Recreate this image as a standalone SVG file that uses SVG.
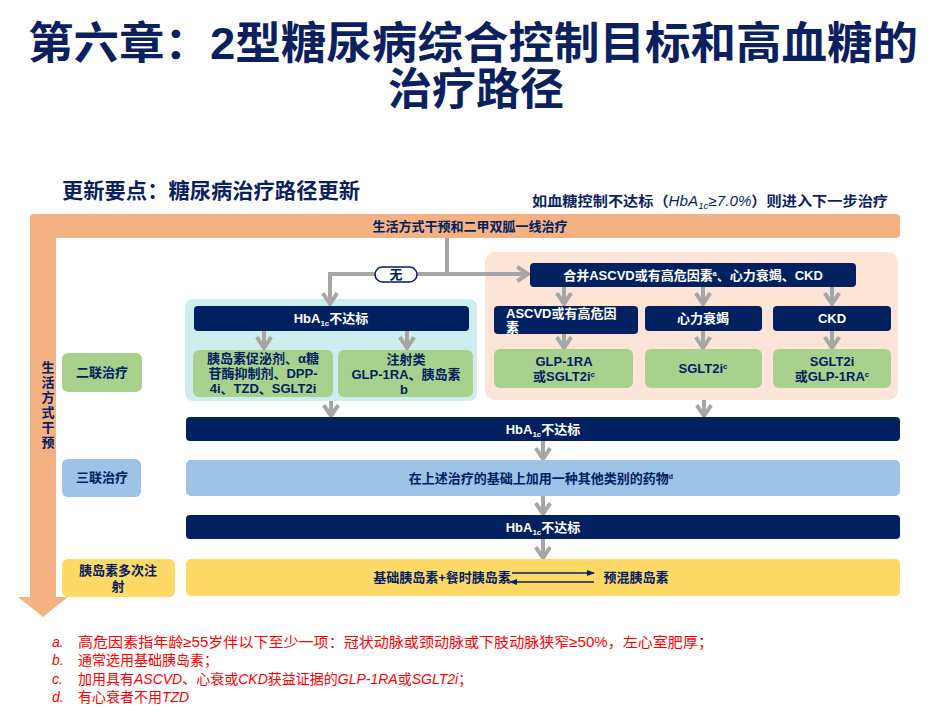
<svg xmlns="http://www.w3.org/2000/svg" width="948" height="710" viewBox="0 0 948 710">
<defs>
<style>
text{font-family:"Liberation Sans","Noto Sans CJK SC",sans-serif;}
.t{fill:#0c1f5f;font-weight:bold;}
.nv{fill:#002060;}
.w{fill:#ffffff;font-weight:bold;font-size:13px;text-anchor:middle;}
.d{fill:#002060;font-weight:bold;font-size:13px;text-anchor:middle;}
.c{stroke:#a6a6a6;stroke-width:4;fill:none;}
.fn{fill:#ff0000;font-size:14px;}
.fl{fill:#ff0000;font-size:14px;font-style:italic;}
</style>
<marker id="ch" viewBox="0 0 10 10" refX="7.5" refY="5" markerWidth="18" markerHeight="18" markerUnits="userSpaceOnUse" orient="auto">
<path d="M1.5,1 L7.5,5 L1.5,9" fill="none" stroke="#a6a6a6" stroke-width="2.2"/>
</marker>
<marker id="tri" viewBox="0 0 10 10" refX="9" refY="5" markerWidth="8" markerHeight="8" markerUnits="userSpaceOnUse" orient="auto">
<path d="M0,1 L10,5 L0,9 Z" fill="#002060"/>
</marker>
</defs>
<rect width="948" height="710" fill="#ffffff"/>

<g id="title">
<text class="t" x="473" y="59" font-size="44" text-anchor="middle" textLength="890" lengthAdjust="spacingAndGlyphs">第六章：2型糖尿病综合控制目标和高血糖的</text>
<text class="t" x="476" y="105" font-size="44" text-anchor="middle">治疗路径</text>
</g>

<g id="subtitle">
<text class="t" x="62" y="198" font-size="21" textLength="298" lengthAdjust="spacingAndGlyphs">更新要点：糖尿病治疗路径更新</text>
<text x="532" y="206" font-size="14" fill="#0c1f5f" font-weight="bold" textLength="356" lengthAdjust="spacingAndGlyphs">如血糖控制不达标（<tspan font-style="italic" font-weight="normal">HbA</tspan><tspan font-style="italic" font-weight="normal" font-size="9" dy="3">1c</tspan><tspan font-style="italic" font-weight="normal" dy="-3">≥7.0%</tspan>）则进入下一步治疗</text>
</g>

<g id="lifestyle">
<path d="M34,214 H896 Q900,214 900,218 V234 Q900,238 896,238 H56 V597 H68 L43,617 L18,597 H30 V218 Q30,214 34,214 Z" fill="#f4b183"/>
<text class="d" x="470" y="231">生活方式干预和二甲双胍一线治疗</text>
<text class="d" font-size="15" x="48" y="372"><tspan x="48">生</tspan><tspan x="48" dy="15">活</tspan><tspan x="48" dy="15">方</tspan><tspan x="48" dy="15">式</tspan><tspan x="48" dy="15">干</tspan><tspan x="48" dy="15">预</tspan></text>
</g>

<g id="region-teal"><rect x="185" y="299" width="292" height="102" rx="8" fill="#cdeeee"/></g>
<g id="region-peach"><rect x="485" y="252" width="413" height="148" rx="10" fill="#fce4d6"/></g>

<g id="connectors">
<path class="c" d="M447,238 V274 H330 V304" marker-end="url(#ch)"/>
<path class="c" d="M447,274 H528" marker-end="url(#ch)"/>
<path class="c" d="M264,331 V348" marker-end="url(#ch)"/>
<path class="c" d="M407,331 V348" marker-end="url(#ch)"/>
<path class="c" d="M564,287 V304" marker-end="url(#ch)"/>
<path class="c" d="M703,287 V304" marker-end="url(#ch)"/>
<path class="c" d="M832,287 V304" marker-end="url(#ch)"/>
<path class="c" d="M564,334 V348" marker-end="url(#ch)"/>
<path class="c" d="M703,331 V348" marker-end="url(#ch)"/>
<path class="c" d="M832,331 V348" marker-end="url(#ch)"/>
<path class="c" d="M331,401 V416" marker-end="url(#ch)"/>
<path class="c" d="M704,400 V416" marker-end="url(#ch)"/>
<path class="c" d="M543,441 V459" marker-end="url(#ch)"/>
<path class="c" d="M543,496 V514" marker-end="url(#ch)"/>
<path class="c" d="M543,539 V558" marker-end="url(#ch)"/>
</g>

<g id="none-label">
<rect x="375" y="267" width="42" height="15" rx="7.5" fill="#ffffff" stroke="#002060" stroke-width="1.5"/>
<text class="d" font-size="11" x="396" y="279">无</text>
</g>

<g id="hba1c-teal">
<rect x="194" y="306" width="275" height="25" rx="4" class="nv"/>
<text class="w" x="331" y="323">HbA<tspan font-size="8" dy="3">1c</tspan><tspan dy="-3">不达标</tspan></text>
</g>
<g id="oral">
<rect x="193" y="350" width="140" height="47" rx="6" fill="#a9d18e"/>
<text class="d" font-size="12.5" x="263" y="363">胰岛素促泌剂、α糖</text>
<text class="d" font-size="12.5" x="263" y="378">苷酶抑制剂、DPP-</text>
<text class="d" font-size="12.5" x="263" y="393">4i、TZD、SGLT2i</text>
</g>
<g id="injection">
<rect x="338" y="350" width="135" height="47" rx="6" fill="#a9d18e"/>
<text class="d" x="406" y="364">注射类</text>
<text class="d" x="406" y="379">GLP-1RA、胰岛素</text>
<text class="d" font-size="7" x="404" y="394">b</text>
</g>

<g id="comorbid">
<rect x="530" y="263" width="326" height="24" rx="4" class="nv"/>
<text class="w" x="693" y="280">合并ASCVD或有高危因素<tspan font-size="7" dy="-4">a</tspan><tspan dy="4">、心力衰竭、CKD</tspan></text>
</g>
<g id="ascvd">
<rect x="494" y="306" width="144" height="28" rx="4" class="nv"/>
<text x="506" y="318" fill="#fff" font-weight="bold" font-size="13">ASCVD或有高危因</text>
<text x="506" y="332" fill="#fff" font-weight="bold" font-size="13">素</text>
</g>
<g id="hf">
<rect x="645" y="306" width="117" height="25" rx="4" class="nv"/>
<text class="w" x="703" y="323">心力衰竭</text>
</g>
<g id="ckd">
<rect x="773" y="306" width="118" height="25" rx="4" class="nv"/>
<text class="w" x="832" y="323">CKD</text>
</g>
<g id="ascvd-drug">
<rect x="494" y="349" width="139" height="39" rx="6" fill="#a9d18e"/>
<text class="d" x="564" y="366">GLP-1RA</text>
<text class="d" x="564" y="381">或SGLT2i<tspan font-size="8" dy="-4">c</tspan></text>
</g>
<g id="hf-drug">
<rect x="645" y="349" width="117" height="39" rx="6" fill="#a9d18e"/>
<text class="d" x="703" y="373">SGLT2i<tspan font-size="8" dy="-4">c</tspan></text>
</g>
<g id="ckd-drug">
<rect x="773" y="349" width="118" height="39" rx="6" fill="#a9d18e"/>
<text class="d" x="832" y="366">SGLT2i</text>
<text class="d" x="832" y="381">或GLP-1RA<tspan font-size="8" dy="-4">c</tspan></text>
</g>

<g id="dual-label">
<rect x="62" y="353" width="80" height="39" rx="6" fill="#a9d18e"/>
<text class="d" x="102" y="377">二联治疗</text>
</g>
<g id="hba1c-1">
<rect x="186" y="417" width="714" height="24" rx="4" class="nv"/>
<text class="w" x="543" y="434">HbA<tspan font-size="8" dy="3">1c</tspan><tspan dy="-3">不达标</tspan></text>
</g>
<g id="triple-label">
<rect x="62" y="459" width="79" height="38" rx="6" fill="#9dc3e6"/>
<text class="d" x="102" y="482">三联治疗</text>
</g>
<g id="triple">
<rect x="186" y="460" width="714" height="36" rx="5" fill="#9dc3e6"/>
<text class="d" x="541" y="483">在上述治疗的基础上加用一种其他类别的药物<tspan font-size="7" dy="-4">d</tspan></text>
</g>
<g id="hba1c-2">
<rect x="186" y="515" width="714" height="24" rx="4" class="nv"/>
<text class="w" x="543" y="532">HbA<tspan font-size="8" dy="3">1c</tspan><tspan dy="-3">不达标</tspan></text>
</g>
<g id="insulin-label">
<rect x="62" y="559" width="113" height="38" rx="6" fill="#ffd966"/>
<text class="d" font-size="12.5" x="118" y="575">胰岛素多次注</text>
<text class="d" font-size="12.5" x="118" y="591">射</text>
</g>
<g id="insulin">
<rect x="186" y="559" width="714" height="37" rx="5" fill="#ffd966"/>
<text class="d" font-size="12.5" x="442" y="582">基础胰岛素+餐时胰岛素</text>
<text class="d" x="636" y="582">预混胰岛素</text>
<line x1="512" y1="573" x2="594" y2="573" stroke="#002060" stroke-width="1.5" marker-end="url(#tri)"/>
<line x1="594" y1="582" x2="510" y2="582" stroke="#002060" stroke-width="1.5" marker-end="url(#tri)"/>
</g>

<g id="footnotes">
<text class="fl" x="52" y="647">a.</text>
<text class="fn" x="78" y="647" textLength="635" lengthAdjust="spacingAndGlyphs">高危因素指年龄≥55岁伴以下至少一项：冠状动脉或颈动脉或下肢动脉狭窄≥50%，左心室肥厚；</text>
<text class="fl" x="52" y="665">b.</text>
<text class="fn" x="78" y="665">通常选用基础胰岛素；</text>
<text class="fl" x="52" y="684">c.</text>
<text class="fn" x="78" y="684">加用具有<tspan font-style="italic">ASCVD</tspan>、心衰或<tspan font-style="italic">CKD</tspan>获益证据的<tspan font-style="italic">GLP-1RA</tspan>或<tspan font-style="italic">SGLT2i</tspan>；</text>
<text class="fl" x="52" y="702">d.</text>
<text class="fn" x="78" y="702">有心衰者不用<tspan font-style="italic">TZD</tspan></text>
</g>
</svg>
